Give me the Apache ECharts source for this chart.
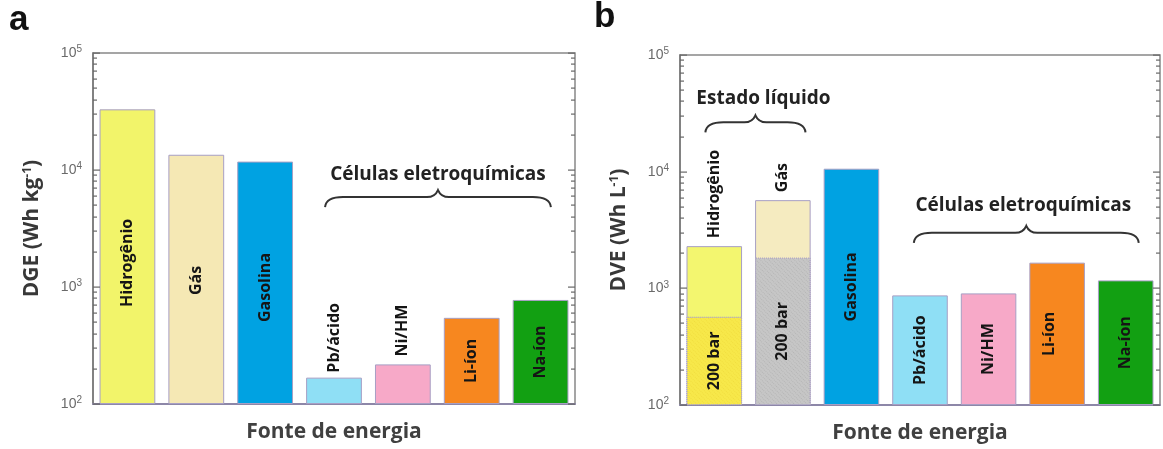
<!DOCTYPE html>
<html><head><meta charset="utf-8">
<script src="https://cdn.jsdelivr.net/npm/echarts@6/dist/echarts.min.js"></script>
<style>html,body{margin:0;padding:0;background:#fff}#c{width:1163px;height:449px}</style>
</head><body><div id="c"></div>
<script>
// ---------- data ----------
const categories = ['Hidrogênio', 'Gás', 'Gasolina', 'Pb/ácido', 'Ni/HM', 'Li-íon', 'Na-íon'];
const dgeValues = [33000, 13500, 11800, 168, 218, 545, 775];          // panel a, Wh/kg
const dveValues = [2300, 5700, 10600, 870, 905, 1660, 1170];          // panel b, Wh/L
const dve200bar = [570, 1830, null, null, null, null, null];          // panel b, 200 bar part
const label200bar = '200 bar';
const yTickValues = [100, 1000, 10000, 100000];
const yTickLabels = ['10{e|2}', '10{e|3}', '10{e|4}', '10{e|5}'];
const minorMantissas = [2, 3, 4, 5, 6, 7, 8, 9];
const annotationsA = [{ text: 'Células eletroquímicas', from: 3, to: 6, at: 5870 }];
const annotationsB = [
  { text: 'Estado líquido', from: 0, to: 1, at: 26500 },
  { text: 'Células eletroquímicas', from: 3, to: 6, at: 2990 }
];

// ---------- styles ----------
const FONT = '"Open Sans", "Noto Sans", sans-serif';
const colorsA = ['#f2f46a', '#f5e8b4', '#00a2e2', '#8fdff5', '#f7a9c8', '#f7871f', '#12a012'];
const colorsB = ['#f3f66f', '#f5ebc0', '#00a2e2', '#8fdff5', '#f7a9c8', '#f7871f', '#12a012'];
const colors200 = ['#f7e84a', '#c6c6c6'];
const braceLayoutA = [{ padL: -0.13, padR: 0.15, textGap: 22, textDx: 0 }];
const braceLayoutB = [{ padL: -0.13, padR: 0.33, textGap: 24, textDx: 8 }, { padL: -0.09, padR: 0.19, textGap: 27, textDx: -3 }];
const placeA = [
  { position: 'insideBottom', distance: 97 },
  { position: 'insideBottom', distance: 109 },
  { position: 'insideBottom', distance: 82 },
  { position: 'top', distance: 5 },
  { position: 'top', distance: 8 },
  { position: 'inside' },
  { position: 'inside' }
];
const placeB = [
  { position: 'top', distance: 8 },
  { position: 'top', distance: 8 },
  { position: 'inside' },
  { position: 'inside' },
  { position: 'inside' },
  { position: 'inside', offset: [0, -8] },
  { position: 'inside' }
];

function labelFor(p) {
  const base = { show: true, rotate: 90, fontFamily: FONT, fontWeight: 'bold', fontSize: 16, color: '#151515',
    position: p.position };
  if (p.distance !== undefined) base.distance = p.distance;
  if (p.offset) base.offset = p.offset;
  if (p.position === 'inside') { base.align = 'center'; base.verticalAlign = 'middle'; }
  else { base.align = 'left'; base.verticalAlign = 'middle'; }
  return base;
}

const barBorder = { borderColor: '#a79fc4', borderWidth: 1 };

const tickList = [];
for (let i = 0; i < yTickValues.length; i++) {
  tickList.push({ v: yTickValues[i], major: true });
  if (i < yTickValues.length - 1) minorMantissas.forEach(m => tickList.push({ v: yTickValues[i] * m, major: false }));
}

function renderTicks(params, api) {
  const cs = params.coordSys;
  const children = [];
  tickList.forEach(t => {
    const y = Math.round(api.coord([0, t.v])[1]);
    const len = t.major ? 7 : 4;
    children.push({ type: 'rect', shape: { x: cs.x, y: y - 0.5, width: len, height: 1.2 }, style: { fill: '#666' } });
    children.push({ type: 'rect', shape: { x: cs.x + cs.width - len, y: y - 0.5, width: len, height: 1.2 }, style: { fill: '#666' } });
  });
  return { type: 'group', children };
}

function makeBraceRenderer(annots, layout) {
  return function (params, api) {
    const i = params.dataIndex;
    const band = api.size([1, 0])[0];
    const p0 = api.coord([api.value(0), api.value(2)]);
    const p1 = api.coord([api.value(1), api.value(2)]);
    const x0 = p0[0] + layout[i].padL * band;
    const x1 = p1[0] + layout[i].padR * band;
    const yb = p0[1];
    const xm = (x0 + x1) / 2;
    const path = `M${x0} ${yb + 10} Q${x0 + 1} ${yb} ${x0 + 18} ${yb} L${xm - 11} ${yb} Q${xm - 3} ${yb} ${xm} ${yb - 7} Q${xm + 3} ${yb} ${xm + 11} ${yb} L${x1 - 18} ${yb} Q${x1 - 1} ${yb} ${x1} ${yb + 10}`;
    return { type: 'group', children: [
      { type: 'path', shape: { pathData: path }, style: { stroke: '#333', lineWidth: 2, fill: null } },
      { type: 'text', style: { text: annots[i].text, x: xm + layout[i].textDx, y: yb - layout[i].textGap,
        align: 'center', verticalAlign: 'middle', fontFamily: FONT, fontWeight: 'bold', fontSize: 19, fill: '#222' } }
    ] };
  };
}

function yAxisFor(gridIndex, name) {
  return {
    type: 'log', logBase: 10, gridIndex, min: 100, max: 100000, startValue: 100,
    name, nameLocation: 'middle', nameGap: 50, nameRotate: 90,
    nameTextStyle: { fontFamily: FONT, fontWeight: 'bold', fontSize: 21, color: '#383838',
      rich: { s: { fontFamily: FONT, fontWeight: 'bold', fontSize: 12, color: '#383838', verticalAlign: 'top', padding: [0, 0, 9, 0] } } },
    axisLine: { show: true, lineStyle: { color: '#777', width: 1.5 } },
    axisTick: { show: false },
    splitLine: { show: false },
    axisLabel: {
      margin: 11, color: '#6a6a6a', fontFamily: 'Arial, "Liberation Sans", sans-serif', fontSize: 14,
      formatter: v => { const k = yTickValues.findIndex(t => Math.abs(t - v) / t < 1e-6); return k >= 0 ? yTickLabels[k] : ''; },
      rich: { e: { fontSize: 10, color: '#6a6a6a', fontFamily: 'Arial, "Liberation Sans", sans-serif', verticalAlign: 'top', padding: [0, 0, 7, 0] } }
    }
  };
}

function xAxisFor(gridIndex) {
  return {
    type: 'category', gridIndex, data: categories,
    name: 'Fonte de energia', nameLocation: 'middle', nameGap: 18,
    nameTextStyle: { fontFamily: FONT, fontWeight: 'bold', fontSize: 21, color: '#404040' },
    axisLine: { show: true, lineStyle: { color: '#8d87a8', width: 2 } },
    axisTick: { show: false }, axisLabel: { show: false }, splitLine: { show: false }
  };
}

const option = {
  animation: false,
  backgroundColor: '#fff',
  grid: [
    { left: 93, top: 53, width: 482, height: 351, show: true, borderColor: '#888', borderWidth: 1.5, backgroundColor: 'transparent' },
    { left: 680, top: 55, width: 480, height: 352, show: true, borderColor: '#888', borderWidth: 1.5, backgroundColor: 'transparent' }
  ],
  xAxis: [xAxisFor(0), xAxisFor(1)],
  yAxis: [yAxisFor(0, 'DGE (Wh kg{s|-1})'), yAxisFor(1, 'DVE (Wh L{s|-1})')],
  graphic: [
    { type: 'text', left: 9, top: 3, style: { text: 'a', fontFamily: 'Arial, "Liberation Sans", sans-serif', fontWeight: 'bold', fontSize: 35, fill: '#111' } },
    { type: 'text', left: 594, top: 0, style: { text: 'b', fontFamily: 'Arial, "Liberation Sans", sans-serif', fontWeight: 'bold', fontSize: 35, fill: '#111' } }
  ],
  series: [
    {
      type: 'bar', xAxisIndex: 0, yAxisIndex: 0, barWidth: '81%', clip: true,
      data: dgeValues.map((v, i) => ({ value: v, itemStyle: Object.assign({ color: colorsA[i] }, barBorder), label: labelFor(placeA[i]) })),
      label: { show: true, formatter: p => p.name }
    },
    {
      type: 'bar', xAxisIndex: 1, yAxisIndex: 1, barWidth: '81%', barGap: '-100%', clip: true,
      data: dveValues.map((v, i) => ({ value: v, itemStyle: Object.assign({ color: colorsB[i] }, barBorder), label: labelFor(placeB[i]) })),
      label: { show: true, formatter: p => p.name }
    },
    {
      type: 'bar', xAxisIndex: 1, yAxisIndex: 1, barWidth: '81%', barGap: '-100%', clip: true,
      data: dve200bar.map((v, i) => v == null ? '-' : ({
        value: v,
        itemStyle: { color: colors200[i], borderColor: '#b0a9c6', borderWidth: 1, borderType: 'dotted',
          decal: { symbol: 'rect', symbolSize: 1, dashArrayX: [1, 1], dashArrayY: [1, 2], rotation: 0.785, color: i === 0 ? 'rgba(230,200,40,0.35)' : 'rgba(150,150,150,0.35)' } },
        label: labelFor({ position: 'inside' })
      })),
      label: { show: true, formatter: () => label200bar }
    },
    { type: 'custom', xAxisIndex: 0, yAxisIndex: 0, silent: true, data: [[0, 1000]], encode: { x: 0, y: 1 }, renderItem: renderTicks, z: 10 },
    { type: 'custom', xAxisIndex: 1, yAxisIndex: 1, silent: true, data: [[0, 1000]], encode: { x: 0, y: 1 }, renderItem: renderTicks, z: 10 },
    { type: 'custom', xAxisIndex: 0, yAxisIndex: 0, silent: true, clip: false,
      data: annotationsA.map(a => [a.from, a.to, a.at]), encode: { x: [0, 1], y: 2 }, renderItem: makeBraceRenderer(annotationsA, braceLayoutA) },
    { type: 'custom', xAxisIndex: 1, yAxisIndex: 1, silent: true, clip: false,
      data: annotationsB.map(a => [a.from, a.to, a.at]), encode: { x: [0, 1], y: 2 }, renderItem: makeBraceRenderer(annotationsB, braceLayoutB) }
  ]
};

const chart = echarts.init(document.getElementById('c'), null, { renderer: 'canvas' });
chart.setOption(option);
</script>
</body></html>
